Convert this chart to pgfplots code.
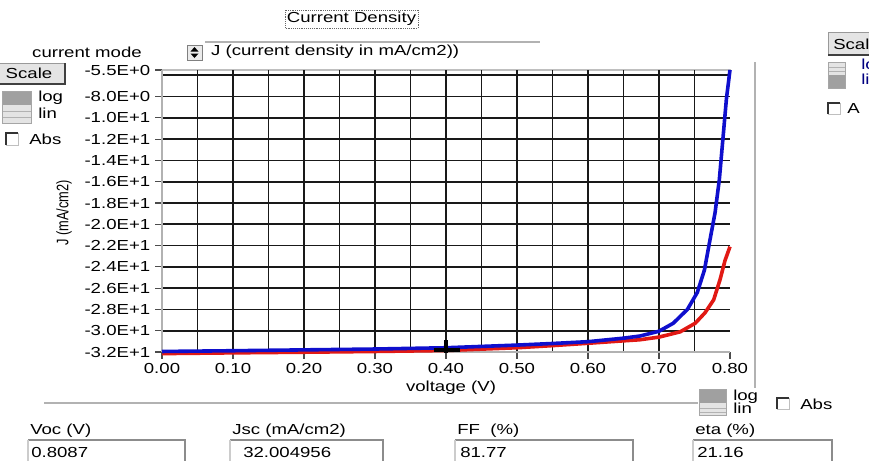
\documentclass[border=0pt]{standalone}
\usepackage{fontspec}
\setmainfont{Liberation Sans}[FakeStretch=1.28]
\newfontfamily\ylabfont{Liberation Sans}
\usepackage{pgfplots}
\pgfplotsset{compat=1.18}
\definecolor{cblue}{RGB}{15,15,205}
\definecolor{cred}{RGB}{225,25,20}
\definecolor{btngray}{RGB}{228,228,228}
\definecolor{lindark}{RGB}{160,160,160}
\definecolor{linlight}{RGB}{228,228,228}
\begin{document}
\fontsize{10.9}{13}\selectfont
\begin{tikzpicture}
\begin{scope}[x=0.75pt,y=-0.75pt]
\path[use as bounding box] (0,0) rectangle (869,461);
% top button
\draw[black!60, densely dotted] (285,10) rectangle (418,28);
\node at (351.5,19) {Current Density};
% mode selector
\node at (87,52) {current mode};
\draw[black!30, line width=1pt] (205,42) -- (540,42);
\draw[black!50, fill=black!8] (187,45) rectangle (202,60);
\fill[black] (190.5,51.5) -- (198.5,51.5) -- (194.5,47) -- cycle;
\fill[black] (190.5,53.5) -- (198.5,53.5) -- (194.5,58) -- cycle;
\node[anchor=west] at (206,52) {J (current density in mA/cm2))};
% left widgets
\draw[fill=btngray, draw=black!40] (-3,63) rectangle (65,84);
\draw[black!75, line width=1pt] (65,63) -- (65,84) -- (-3,84);
\node at (29,73.5) {Scale};
\fill[lindark] (2,91) rectangle (31,105);
\fill[linlight] (2,105) rectangle (31,123);
\draw[black!30] (2,111) -- (31,111) (2,117) -- (31,117);
\draw[black!35] (2,91) rectangle (31,123);
\node[anchor=west, inner sep=0pt] at (38,98) {log};
\node[anchor=west, inner sep=0pt] at (38,113) {lin};
\draw[black!25] (6,133) rectangle (18,145);
\draw[black!80, line width=0.9pt] (6,145) -- (6,133) -- (18,133);
\node[anchor=west, inner sep=0pt] at (29,139) {Abs};
% right widgets
\draw[fill=btngray, draw=black!40] (828,32) rectangle (880,55);
\draw[black!75, line width=1pt] (828,55) -- (880,55);
\node[anchor=west, inner sep=0pt] at (833,44) {Scale};
\fill[linlight] (828,62) rectangle (845,75);
\fill[lindark] (828,75) rectangle (845,88);
\draw[black!30] (828,67) -- (845,67) (828,71) -- (845,71);
\draw[black!35] (828,62) rectangle (845,88);
\node[anchor=west, inner sep=0pt, text=blue!50!black] at (861,66) {log};
\node[anchor=west, inner sep=0pt, text=blue!50!black] at (861,79) {lin};
\draw[black!25] (828,103) rectangle (840,114);
\draw[black!80, line width=0.9pt] (828,114) -- (828,103) -- (840,103);
\node[anchor=west, inner sep=0pt] at (847,108.5) {A};
% separators
\draw[black!30, line width=1pt] (755,62) -- (755,388);
\draw[black!30, line width=1pt] (44,403) -- (698,403);
% top frame line of plot
\draw[black!25, line width=0.8pt] (162,70) -- (731,70);
% bottom log/lin
\fill[lindark] (699,389) rectangle (726,403);
\fill[linlight] (699,403) rectangle (726,415);
\draw[black!30] (699,408) -- (726,408) (699,412) -- (726,412);
\draw[black!35] (699,389) rectangle (726,415);
\node[anchor=west, inner sep=0pt] at (733,397) {log};
\node[anchor=west, inner sep=0pt] at (733,408) {lin};
\draw[black!25] (777,398) rectangle (789,409);
\draw[black!80, line width=0.9pt] (777,409) -- (777,398) -- (789,398);
\node[anchor=west, inner sep=0pt] at (800,404) {Abs};
% axis labels
\node at (451,388) {voltage (V)};
\node[rotate=90] at (64,213) {\scalebox{1}[1.3]{\ylabfont\fontsize{9.6}{11}\selectfont J (mA/cm2)}};
% bottom fields
\node[anchor=west, inner sep=0pt] at (30,431) {Voc (V)};
\node[anchor=west, inner sep=0pt] at (31,452) {0.8087};
\draw[black!45, line width=1pt] (28,440) -- (185,440) -- (185,463);
\draw[black!20, line width=1pt] (28,440) -- (28,463);
\node[anchor=west, inner sep=0pt] at (232,431) {Jsc (mA/cm2)};
\node[anchor=west, inner sep=0pt] at (243,452) {32.004956};
\draw[black!45, line width=1pt] (230,440) -- (383,440) -- (383,463);
\draw[black!20, line width=1pt] (230,440) -- (230,463);
\node[anchor=west, inner sep=0pt] at (457,431) {FF\ \ (\%)};
\node[anchor=west, inner sep=0pt] at (460,452) {81.77};
\draw[black!45, line width=1pt] (455,440) -- (633,440) -- (633,463);
\draw[black!20, line width=1pt] (455,440) -- (455,463);
\node[anchor=west, inner sep=0pt] at (695,431) {eta (\%)};
\node[anchor=west, inner sep=0pt] at (697,452) {21.16};
\draw[black!45, line width=1pt] (693,440) -- (832,440) -- (832,463);
\draw[black!20, line width=1pt] (693,440) -- (693,463);
\end{scope}
\begin{axis}[
  at={(121.5pt,-264pt)}, anchor=south west,
  scale only axis, width=426pt, height=211.5pt,
  xmin=0, xmax=0.8, ymin=-32, ymax=-5.5,
  clip=false,
  axis x line*=bottom, axis y line*=left,
  axis line style={draw=black!30, line width=0.8pt},
  xtick={0,0.1,0.2,0.3,0.4,0.5,0.6,0.7,0.8},
  xticklabels={0.00,0.10,0.20,0.30,0.40,0.50,0.60,0.70,0.80},
  ytick={-32,-30,-28,-26,-24,-22,-20,-18,-16,-14,-12,-10,-8,-5.5},
  yticklabels={-3.2E+1,-3.0E+1,-2.8E+1,-2.6E+1,-2.4E+1,-2.2E+1,-2.0E+1,-1.8E+1,-1.6E+1,-1.4E+1,-1.2E+1,-1.0E+1,-8.0E+0,-5.5E+0},
  minor xtick={0.05,0.1,0.15,0.2,0.25,0.3,0.35,0.4,0.45,0.5,0.55,0.6,0.65,0.7,0.75},
  minor ytick={-32,-30,-28,-26,-24,-22,-20,-18,-16,-14,-12,-10,-8,-6},
  xmajorgrids=false, ymajorgrids=false,
  xminorgrids, yminorgrids,
  minor grid style={black!90, line width=1.3pt},
  tick align=outside, major tick length=5pt, minor tick length=0pt,
  major tick style={black!70, line width=0.8pt},
]
\addplot[cred, line width=2.7pt, line join=round] coordinates {
(0.00,-32.15) (0.10,-32.08) (0.20,-32.02) (0.30,-31.95) (0.40,-31.86)
(0.50,-31.6) (0.55,-31.4) (0.60,-31.18) (0.65,-30.95) (0.673,-30.85)
(0.70,-30.6) (0.73,-30.1) (0.751,-29.3) (0.765,-28.3) (0.777,-27.1)
(0.786,-25.2) (0.793,-23.4) (0.80,-22.1)};
\addplot[cblue, line width=2.7pt, line join=round] coordinates {
(0.00,-31.95) (0.10,-31.88) (0.20,-31.8) (0.30,-31.72) (0.40,-31.6)
(0.50,-31.35) (0.55,-31.2) (0.60,-31.03) (0.65,-30.7) (0.673,-30.5)
(0.70,-30.05) (0.72,-29.3) (0.74,-28.0) (0.754,-26.4) (0.764,-24.3)
(0.772,-21.4) (0.779,-18.9) (0.785,-15.8) (0.790,-12.0) (0.795,-8.2)
(0.80,-5.5)};
\addplot[black, line width=2.4pt] coordinates {(0.383,-31.82) (0.42,-31.82)};
\addplot[black, line width=2.4pt] coordinates {(0.40,-30.9) (0.40,-32.05)};
\end{axis}
\end{tikzpicture}
\end{document}
